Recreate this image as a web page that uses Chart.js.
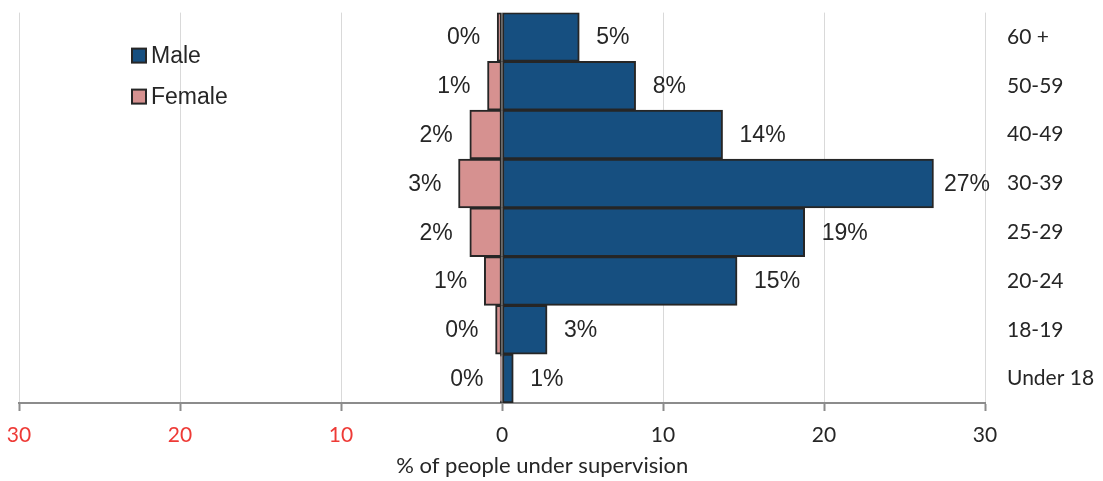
<!DOCTYPE html>
<html>
<head>
<meta charset="utf-8">
<script src="https://cdn.jsdelivr.net/npm/chart.js@4"></script>
<style>
  html, body { margin: 0; padding: 0; background: #fff; }
  #wrap { width: 1103px; height: 481px; }
</style>
</head>
<body>
<div id="wrap"><canvas id="grafico"></canvas></div>
<script>
const categorias = ["60 +", "50-59", "40-49", "30-39", "25-29", "20-24", "18-19", "Under 18"];
const homens = [4.8, 8.3, 13.7, 26.8, 18.8, 14.6, 2.8, 0.7];
const mulheres = [-0.3, -0.9, -2.0, -2.7, -2.0, -1.1, -0.4, -0.1];
const ticksX = [-30, -20, -10, 0, 10, 20, 30];
const tituloX = "% of people under supervision";

const corHomem = "#164f80";
const corMulher = "#d69190";
const corBorda = "#262626";

// rotulos "x%" ao lado de cada barra
const rotulosBarras = {
  id: "rotulosBarras",
  afterDatasetsDraw(chart) {
    const ctx = chart.ctx;
    ctx.save();
    ctx.font = "23px 'Liberation Sans', Arial, sans-serif";
    ctx.fillStyle = "#262626";
    ctx.textBaseline = "middle";
    chart.data.datasets.forEach((ds, i) => {
      const meta = chart.getDatasetMeta(i);
      meta.data.forEach((bar, j) => {
        const v = ds.data[j];
        const txt = Math.round(Math.abs(v)) + "%";
        const w = ctx.measureText(txt).width;
        if (v >= 0) {
          let x = bar.x + 17;
          if (x + w > chart.chartArea.right + 5) x = chart.chartArea.right + 5 - w;
          ctx.textAlign = "left";
          ctx.fillText(txt, x, bar.y + 1);
        } else {
          ctx.textAlign = "right";
          ctx.fillText(txt, bar.x - 17, bar.y + 1);
        }
      });
    });
    ctx.restore();
  },
};

// legenda dentro da area do grafico + titulo do eixo x
const legendaInterna = {
  id: "legendaInterna",
  afterDraw(chart) {
    const ctx = chart.ctx;
    const area = chart.chartArea;
    ctx.save();
    ctx.font = "23px 'Liberation Sans', Arial, sans-serif";
    ctx.textBaseline = "middle";
    ctx.textAlign = "left";
    chart.data.datasets.forEach((ds, i) => {
      const x = area.left + 113;
      const y = area.top + 43 + i * 41;
      ctx.fillStyle = ds.backgroundColor;
      ctx.fillRect(x, y - 7, 14, 14);
      ctx.strokeStyle = corBorda;
      ctx.lineWidth = 2;
      ctx.strokeRect(x, y - 7, 14, 14);
      ctx.fillStyle = "#262626";
      ctx.fillText(ds.label, x + 19, y + 1);
    });

    ctx.font = "22px Lato, sans-serif";
    ctx.textAlign = "center";
    ctx.fillStyle = "#262626";
    ctx.fillText(tituloX, chart.scales.x.getPixelForValue(2.5), chart.height - 15);
    ctx.restore();
  },
};

document.addEventListener("DOMContentLoaded", () => {
  const ctx = document.getElementById("grafico").getContext("2d");
  new Chart(ctx, {
    type: "bar",
    data: {
      labels: categorias,
      datasets: [
        {
          label: "Male",
          data: homens,
          backgroundColor: corHomem,
          borderColor: corBorda,
          borderWidth: 2,
          borderSkipped: false,
          barPercentage: 1,
          categoryPercentage: 1,
        },
        {
          label: "Female",
          data: mulheres,
          backgroundColor: corMulher,
          borderColor: corBorda,
          borderWidth: 2,
          borderSkipped: false,
          barPercentage: 1,
          categoryPercentage: 1,
        },
      ],
    },
    options: {
      indexAxis: "y",
      responsive: true,
      maintainAspectRatio: false,
      animation: false,
      layout: { padding: { left: 19, top: 12, right: 0, bottom: 33 } },
      scales: {
        x: {
          stacked: true,
          min: -30,
          max: 30,
          afterBuildTicks(scale) {
            scale.ticks = ticksX.map((v) => ({ value: v }));
          },
          afterFit(scale) {
            scale.height = 45;
          },
          grid: {
            color: "#d9d9d9",
            lineWidth: 1,
            tickColor: "#8c8c8c",
            tickLength: 8,
            tickWidth: 2,
          },
          border: { color: "#8c8c8c", width: 2 },
          ticks: {
            padding: 6,
            font: { family: "Lato", size: 21, lineHeight: 1.7 },
            color: (c) => (c.tick && c.tick.value < 0 ? "#ee3a36" : "#262626"),
            callback: (v) => Math.abs(v),
          },
        },
        y: {
          stacked: true,
          position: "right",
          afterFit(scale) {
            scale.width = 118;
          },
          // marcas invisiveis so para afastar os rotulos do eixo
          grid: {
            drawOnChartArea: false,
            drawTicks: true,
            tickLength: 22,
            tickColor: "rgba(0,0,0,0)",
          },
          border: { display: false },
          ticks: {
            padding: 0,
            crossAlign: "near",
            font: { family: "Lato", size: 21 },
            color: "#262626",
          },
        },
      },
      plugins: {
        legend: { display: false },
        tooltip: { enabled: false },
        title: { display: false },
      },
    },
    plugins: [rotulosBarras, legendaInterna],
  });
});
</script>
</body>
</html>
